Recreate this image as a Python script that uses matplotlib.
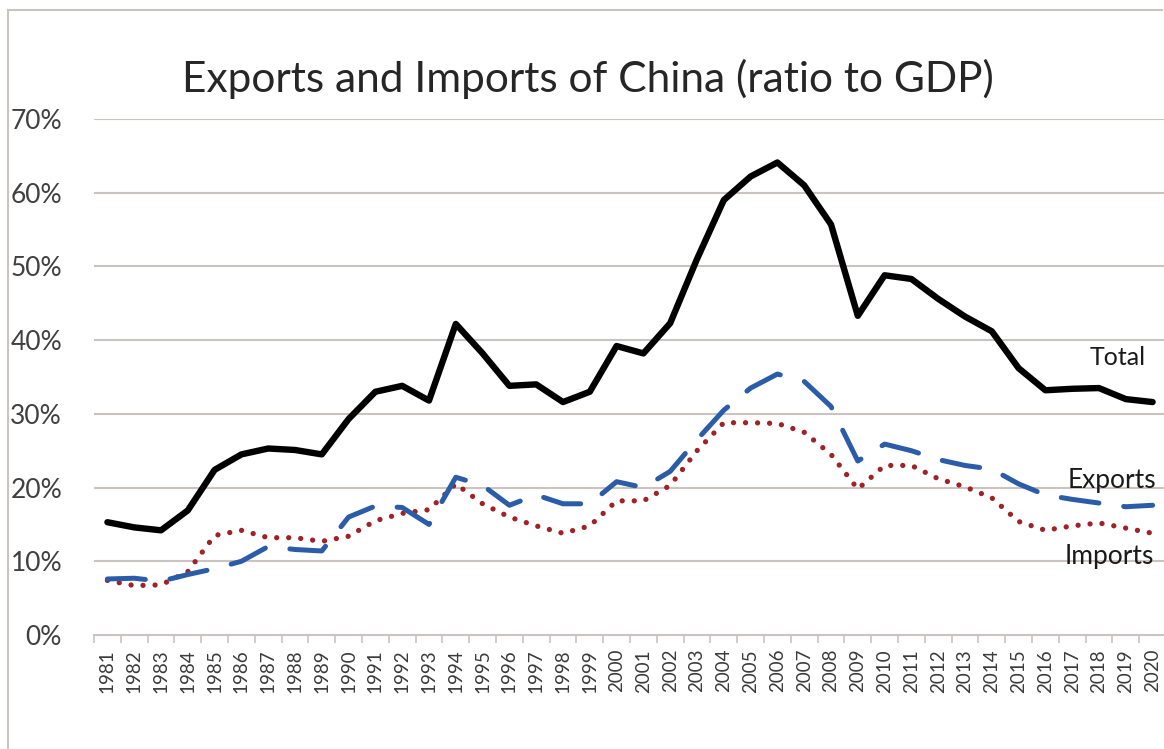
import matplotlib
matplotlib.use("Agg")
import matplotlib.pyplot as plt
from matplotlib.ticker import FuncFormatter, FixedLocator
from matplotlib.lines import Line2D

years = list(range(1981, 2021))
total = [15.3, 14.6, 14.2, 16.9, 22.4, 24.5, 25.3, 25.1, 24.5, 29.3,
         33.0, 33.8, 31.8, 42.2, 38.2, 33.8, 34.0, 31.6, 33.0, 39.2,
         38.2, 42.3, 51.0, 59.0, 62.2, 64.1, 61.0, 55.7, 43.3, 48.8,
         48.3, 45.6, 43.2, 41.2, 36.2, 33.2, 33.4, 33.5, 32.0, 31.6]
exports = [7.6, 7.7, 7.3, 8.2, 9.0, 10.0, 12.0, 11.6, 11.4, 16.0,
           17.5, 17.3, 15.0, 21.4, 20.3, 17.6, 19.0, 17.8, 17.8, 20.8,
           20.0, 22.2, 26.5, 30.5, 33.5, 35.4, 34.4, 31.0, 23.6, 25.9,
           25.0, 23.8, 23.0, 22.5, 20.5, 19.0, 18.4, 17.9, 17.4, 17.6]
imports = [7.4, 6.7, 6.8, 8.6, 13.5, 14.2, 13.2, 13.2, 12.7, 13.4,
           15.5, 16.5, 17.0, 20.5, 17.8, 16.0, 14.8, 13.8, 14.8, 18.2,
           18.2, 20.3, 25.0, 28.8, 28.8, 28.7, 27.5, 24.5, 19.8, 23.0,
           23.0, 21.2, 20.1, 18.6, 15.4, 14.2, 14.8, 15.2, 14.5, 13.8]
yticks = [0, 10, 20, 30, 40, 50, 60, 70]
title = "Exports and Imports of China (ratio to GDP)"
series_labels = ["Total", "Exports", "Imports"]

plt.rcParams['font.family'] = ['Lato', 'DejaVu Sans']

fig = plt.figure(figsize=(11.64, 7.49), dpi=100)
fig.patch.set_facecolor('white')

# outer chart frame (left, top visible)
frame_col = '#c9c4c0'
fig.add_artist(Line2D([8/1164, 8/1164], [0, 1 - 10/749], transform=fig.transFigure, color=frame_col, lw=1.5))
fig.add_artist(Line2D([8/1164, 1162/1164], [1 - 10/749, 1 - 10/749], transform=fig.transFigure, color=frame_col, lw=1.5))

ax = fig.add_axes([94/1164, 1 - 635/749, (1166 - 94)/1164, (635 - 119)/749])
ax.set_xlim(1980.5, 2020.5)
ax.set_ylim(0, 70)

grid_col = '#cbc3c0'
for y in yticks[1:]:
    ax.axhline(y, color=grid_col, lw=1.5, zorder=1)

ax.plot(years, total, color='black', lw=4.6, solid_joinstyle='round', solid_capstyle='round', zorder=4)
ax.plot(years, exports, color='#2b5ca8', lw=3.6, linestyle=(0, (7.6, 5.0)),
        dash_capstyle='round', dash_joinstyle='round', zorder=3)
ax.plot(years, imports, color='#9e2226', lw=3.8, linestyle=(0, (0.01, 2.27)),
        dash_capstyle='round', zorder=2)

for s in ['left', 'right', 'top']:
    ax.spines[s].set_visible(False)
ax.spines['bottom'].set_color(grid_col)
ax.spines['bottom'].set_linewidth(1.5)

ax.set_yticks(yticks)
ax.yaxis.set_major_formatter(FuncFormatter(lambda v, p: f"{int(v)}%"))
ax.tick_params(axis='y', length=0, pad=23, labelsize=19, labelcolor='#404040')

ax.set_xticks(years)
ax.set_xticklabels([str(y) for y in years], rotation=90)
ax.tick_params(axis='x', which='major', length=0, pad=10, labelsize=13.5, labelcolor='#3a3a3a')
ax.xaxis.set_minor_locator(FixedLocator([y - 0.5 for y in years] + [2020.5]))
ax.tick_params(axis='x', which='minor', length=6, width=1.2, color=grid_col, direction='out')

fig.text(588/1164, 1 - 92/749, title, ha='center', va='baseline', fontsize=30.5, color='#262626')

ax.text(2018.7, 37.6, series_labels[0], ha='center', va='center', fontsize=18, color='#1a1a1a', zorder=5)
ax.text(2018.5, 21.0, series_labels[1], ha='center', va='center', fontsize=19, color='#1a1a1a', zorder=5)
ax.text(2018.4, 10.6, series_labels[2], ha='center', va='center', fontsize=19, color='#1a1a1a', zorder=5)

fig.savefig('out.png', dpi=100, facecolor='white')
